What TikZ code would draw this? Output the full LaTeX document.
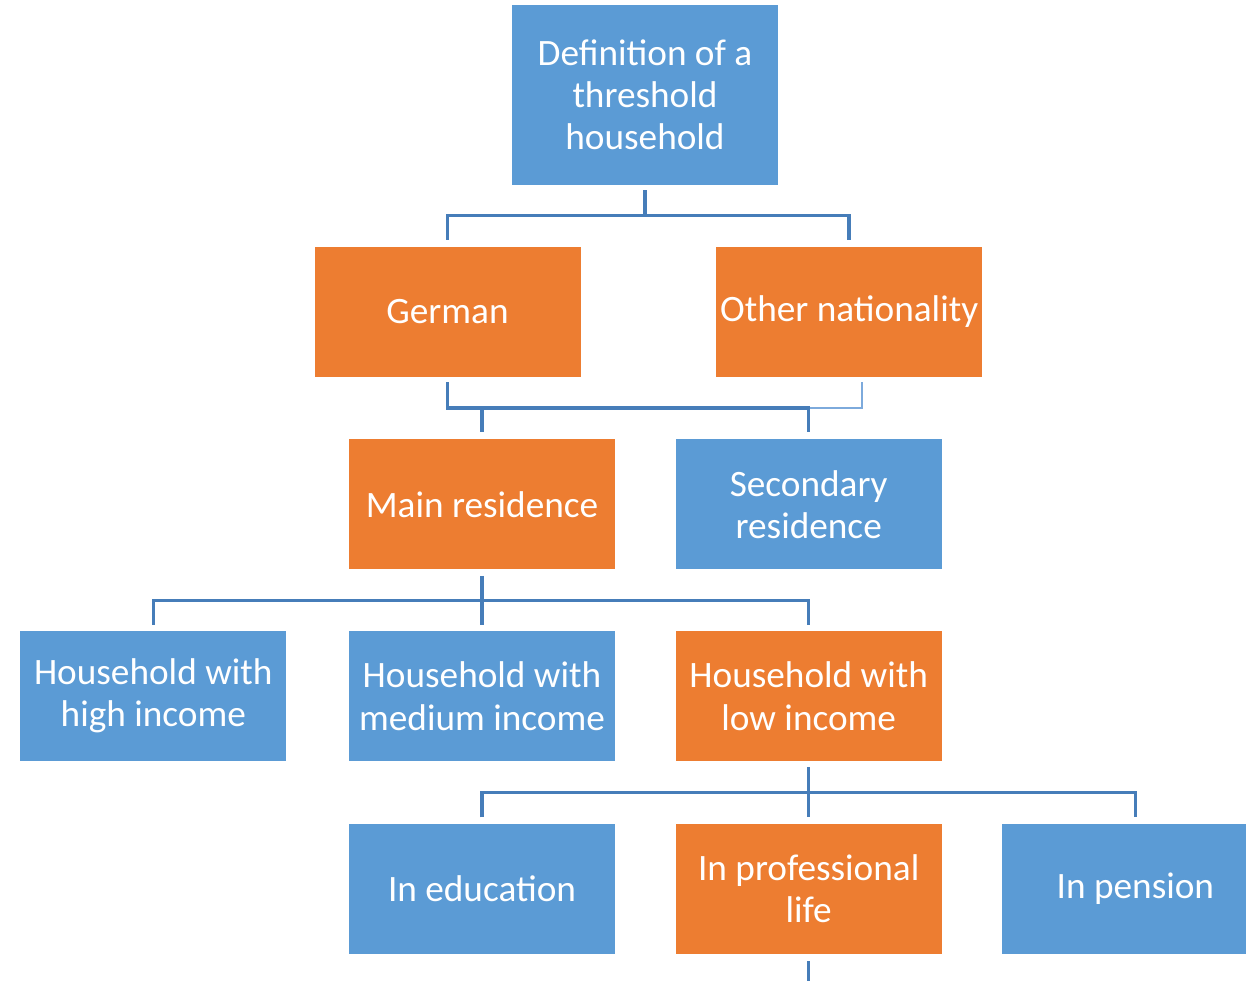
\documentclass[tikz,border=0pt]{standalone}
\usepackage{fontspec}
\setmainfont{Carlito}
\usetikzlibrary{positioning, calc}

\definecolor{boxblue}{RGB}{91,155,213}
\definecolor{boxorange}{RGB}{237,125,49}
\definecolor{linkblue}{RGB}{70,125,185}
\definecolor{faintblue}{RGB}{125,170,220}

\begin{document}
\begin{tikzpicture}[
  node distance=1.22cm,
  box/.style={rectangle, minimum width=5.32cm, minimum height=2.6cm, inner sep=0pt,
    align=center, text=white, font=\fontsize{21.2}{24}\selectfont},
  bluebox/.style={box, fill=boxblue},
  orangebox/.style={box, fill=boxorange},
  link/.style={draw=linkblue, line width=2pt},
  faintlink/.style={draw=faintblue, line width=1pt}
  ]
  \clip (0,0) rectangle (24.92,-19.6);

  \node[bluebox, minimum height=3.6cm] (def) at (12.9,-1.9) {Definition of a\\threshold\\household};
  \node[orangebox, below=1.22cm of def, xshift=-3.95cm] (german) {German};
  \node[orangebox, right=2.7cm of german] (other) {Other nationality};
  \node[orangebox, below=1.24cm of german, xshift=0.69cm] (main) {Main residence};
  \node[bluebox, right=1.2cm of main] (second) {Secondary\\residence};
  \node[bluebox, below=of main] (medium) {Household with\\medium income};
  \node[bluebox, left=1.24cm of medium] (high) {Household with\\high income};
  \node[orangebox, right=1.2cm of medium] (low) {Household with\\low income};
  \node[orangebox, below=1.24cm of low] (prof) {In professional\\life};
  \node[bluebox, left=1.2cm of prof] (edu) {In education};
  \node[bluebox, right=1.2cm of prof] (pension) {In pension};

  % nationality
  \draw[link] ([yshift=-1mm]def.south) -- ++(0,-0.5) -| ([yshift=1.2mm]german.north);
  \draw[link] ([yshift=-1mm]def.south) -- ++(0,-0.5) -| ([yshift=1.2mm]other.north);

  % residence
  \coordinate (b2) at ($(german.south)!0.5!(main.north)$);
  \draw[faintlink] ([xshift=2.6mm,yshift=-1mm]other.south) |- (second.north |- b2);
  \draw[link] ([yshift=-1mm]german.south) |- (b2) -| ([yshift=1.4mm]main.north);
  \draw[link] (b2) -| ([yshift=1.4mm]second.north);

  % income
  \coordinate (b3) at ($(main.south)!0.5!(medium.north)$);
  \draw[link] ([yshift=-1.2mm]main.south) -- ([yshift=1.2mm]medium.north);
  \draw[link] ([yshift=1.2mm]high.north) |- (b3) -| ([yshift=1.2mm]low.north);

  % occupation
  \coordinate (b4) at ($(low.south)!0.5!(prof.north)$);
  \draw[link] ([yshift=-1.2mm]low.south) -- ([yshift=1.2mm]prof.north);
  \draw[link] ([yshift=1.2mm]edu.north) |- (b4) -| ([yshift=1.2mm]pension.north);
  \draw[link] ([yshift=-1.4mm]prof.south) -- ++(0,-0.6);
\end{tikzpicture}
\end{document}
